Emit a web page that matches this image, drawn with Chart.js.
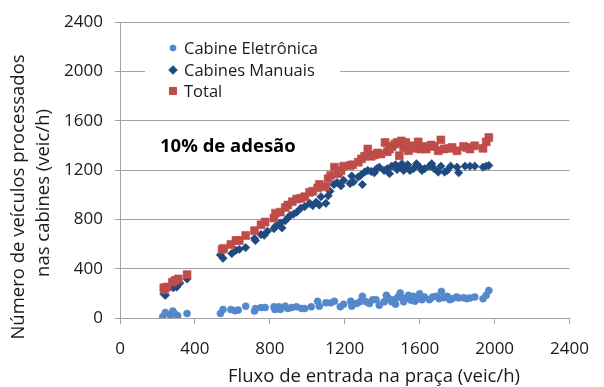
<!DOCTYPE html>
<html>
<head>
<meta charset="utf-8">
<script src="https://cdn.jsdelivr.net/npm/chart.js@4.4.0/dist/chart.umd.min.js"></script>
<style>
  html, body { margin: 0; padding: 0; background: #fff; }
  #wrap { width: 604px; height: 387px; }
</style>
</head>
<body>
<div id="wrap"><canvas id="chart" width="604" height="387"></canvas></div>
<script>
const seriesNames = ["Cabine Eletrônica", "Cabines Manuais", "Total"];
const axisTicks = [0, 400, 800, 1200, 1600, 2000, 2400];

// fluxo de entrada (veic/h) and processed vehicles per series
const eletronicaX = [228, 242, 268, 282, 294, 308, 358, 536, 550, 592, 614, 631, 671, 718, 723, 753, 775, 822, 827, 848, 856, 882, 896, 917, 943, 969, 986, 1021, 1055, 1064, 1099, 1125, 1145, 1176, 1194, 1232, 1237, 1263, 1280, 1294, 1315, 1332, 1349, 1367, 1384, 1410, 1422, 1436, 1450, 1462, 1471, 1484, 1496, 1505, 1514, 1526, 1540, 1554, 1566, 1574, 1592, 1600, 1612, 1626, 1652, 1669, 1687, 1704, 1716, 1730, 1747, 1761, 1773, 1796, 1808, 1834, 1851, 1868, 1894, 1938, 1955, 1969];
const eletronicaY = [11, 45, 24, 56, 32, 19, 37, 37, 69, 69, 59, 64, 96, 56, 77, 85, 85, 91, 69, 91, 69, 96, 77, 85, 91, 77, 77, 91, 136, 96, 123, 123, 136, 91, 112, 136, 96, 117, 131, 176, 131, 117, 149, 149, 104, 131, 184, 157, 131, 149, 112, 171, 203, 165, 131, 157, 184, 144, 176, 136, 157, 197, 149, 171, 149, 171, 176, 157, 216, 165, 176, 149, 157, 171, 163, 165, 157, 163, 171, 157, 184, 224];

const manuaisX = [234, 242, 285, 303, 320, 358, 536, 550, 597, 619, 637, 671, 718, 723, 753, 770, 787, 822, 830, 856, 865, 882, 896, 908, 926, 943, 965, 986, 1012, 1029, 1047, 1064, 1073, 1099, 1111, 1121, 1142, 1159, 1180, 1194, 1228, 1237, 1246, 1272, 1284, 1294, 1306, 1323, 1341, 1358, 1370, 1384, 1410, 1427, 1439, 1450, 1471, 1479, 1496, 1505, 1514, 1526, 1536, 1548, 1566, 1583, 1600, 1612, 1626, 1652, 1664, 1678, 1699, 1713, 1733, 1747, 1765, 1799, 1808, 1842, 1868, 1894, 1938, 1955, 1969];
const manuaisY = [197, 184, 245, 251, 283, 317, 512, 485, 523, 549, 557, 571, 645, 629, 677, 672, 704, 725, 744, 771, 731, 789, 811, 832, 843, 859, 891, 904, 931, 912, 939, 917, 984, 931, 992, 1029, 1083, 1099, 1072, 1117, 1091, 1152, 1104, 1144, 1157, 1083, 1184, 1197, 1189, 1179, 1211, 1224, 1197, 1211, 1171, 1232, 1243, 1205, 1224, 1251, 1197, 1224, 1243, 1197, 1211, 1251, 1224, 1197, 1211, 1232, 1251, 1211, 1184, 1232, 1184, 1197, 1232, 1224, 1179, 1232, 1232, 1232, 1224, 1232, 1237];

const totalX = [234, 239, 251, 280, 294, 311, 358, 545, 554, 592, 619, 637, 671, 718, 753, 775, 822, 830, 856, 882, 896, 920, 943, 965, 986, 1012, 1029, 1055, 1064, 1099, 1111, 1125, 1145, 1168, 1180, 1194, 1228, 1242, 1272, 1289, 1306, 1323, 1341, 1358, 1375, 1393, 1415, 1427, 1439, 1453, 1467, 1479, 1491, 1502, 1514, 1526, 1540, 1557, 1574, 1592, 1605, 1618, 1635, 1661, 1678, 1699, 1713, 1730, 1756, 1773, 1799, 1834, 1851, 1868, 1894, 1938, 1955, 1969];
const totalY = [245, 229, 251, 291, 304, 317, 352, 557, 565, 597, 629, 629, 669, 709, 757, 779, 811, 851, 859, 896, 917, 944, 965, 971, 984, 1019, 1029, 1056, 1083, 1064, 1131, 1157, 1224, 1171, 1197, 1232, 1237, 1243, 1264, 1291, 1312, 1371, 1312, 1323, 1339, 1331, 1424, 1349, 1371, 1392, 1411, 1424, 1317, 1437, 1384, 1424, 1357, 1397, 1376, 1429, 1371, 1392, 1371, 1403, 1392, 1357, 1445, 1371, 1376, 1384, 1357, 1392, 1384, 1371, 1397, 1376, 1429, 1464];

const adesaoLabel = "10% de adesão";
const xTitle = "Fluxo de entrada na praça (veic/h)";
const yTitle = ["Número de veículos processados", "nas cabines (veic/h)"];

const FONT = "'Open Sans', 'DejaVu Sans', sans-serif";
const GRID = "#a3a3a3";
const TEXT = "#1a1a1a";

function toPoints(xs, ys) {
  return xs.map((x, i) => ({ x, y: ys[i] }));
}

const styles = [
  { pointStyle: "circle", pointRadius: 3.5, color: "#5587cb", legendRadius: 3 },
  { pointStyle: "rectRot", pointRadius: 4.2, color: "#1f4a80", legendRadius: 4.3 },
  { pointStyle: "rect", pointRadius: 5.6, color: "#bf4c49", legendRadius: 5 },
];

const datasets = [
  toPoints(eletronicaX, eletronicaY),
  toPoints(manuaisX, manuaisY),
  toPoints(totalX, totalY),
].map((data, i) => ({
  label: seriesNames[i],
  data,
  order: 2 - i,
  pointStyle: styles[i].pointStyle,
  pointRadius: styles[i].pointRadius,
  pointBorderWidth: 0.6,
  backgroundColor: styles[i].color,
  borderColor: styles[i].color,
  showLine: false,
}));

// legend box, annotation and axis titles drawn at fixed spots
const overlay = {
  id: "overlay",
  afterDraw(chart) {
    const { ctx } = chart;
    ctx.save();

    ctx.fillStyle = "#fff";
    ctx.fillRect(145, 32, 195, 72);
    ctx.font = `16.5px ${FONT}`;
    ctx.textBaseline = "middle";
    ctx.textAlign = "left";
    [48, 70, 91].forEach((y, i) => {
      ctx.fillStyle = styles[i].color;
      ctx.strokeStyle = styles[i].color;
      Chart.helpers.drawPoint(ctx, {
        pointStyle: styles[i].pointStyle,
        radius: styles[i].legendRadius,
        borderWidth: 0.5,
      }, 173, y);
      ctx.fillStyle = TEXT;
      ctx.fillText(seriesNames[i], 184, y + 1);
    });

    ctx.font = `bold 18.5px ${FONT}`;
    ctx.fillStyle = "#000";
    ctx.fillText(adesaoLabel, 160, 147);

    ctx.font = `18.5px ${FONT}`;
    ctx.fillStyle = TEXT;
    ctx.textAlign = "center";
    ctx.fillText(xTitle, 374, 377);

    ctx.rotate(-Math.PI / 2);
    ctx.fillText(yTitle[0], -197, 19);
    ctx.fillText(yTitle[1], -193, 44);
    ctx.restore();
  },
};

const plainTick = (value) => String(value);

new Chart(document.getElementById("chart"), {
  type: "scatter",
  data: { datasets },
  options: {
    responsive: false,
    animation: false,
    events: [],
    layout: { padding: { top: 18, right: 22, left: 0, bottom: 0 } },
    plugins: {
      legend: { display: false },
      tooltip: { enabled: false },
    },
    scales: {
      x: {
        type: "linear",
        min: 0,
        max: 2400,
        afterBuildTicks(scale) {
          scale.ticks = axisTicks.map((v) => ({ value: v }));
        },
        afterFit(scale) {
          scale.height = 69;
        },
        grid: { drawOnChartArea: false, drawTicks: true, tickLength: 6, color: GRID },
        border: { color: GRID, width: 1 },
        ticks: { color: TEXT, font: { family: FONT, size: 17 }, padding: 15, maxRotation: 0, callback: plainTick },
      },
      y: {
        type: "linear",
        min: 0,
        max: 2400,
        afterBuildTicks(scale) {
          scale.ticks = axisTicks.map((v) => ({ value: v }));
        },
        afterFit(scale) {
          scale.width = 120;
        },
        grid: { color: GRID, tickLength: 5, lineWidth: 1 },
        border: { color: GRID, width: 1 },
        ticks: { color: TEXT, font: { family: FONT, size: 17 }, padding: 12, callback: plainTick },
      },
    },
  },
  plugins: [overlay],
});
</script>
</body>
</html>
